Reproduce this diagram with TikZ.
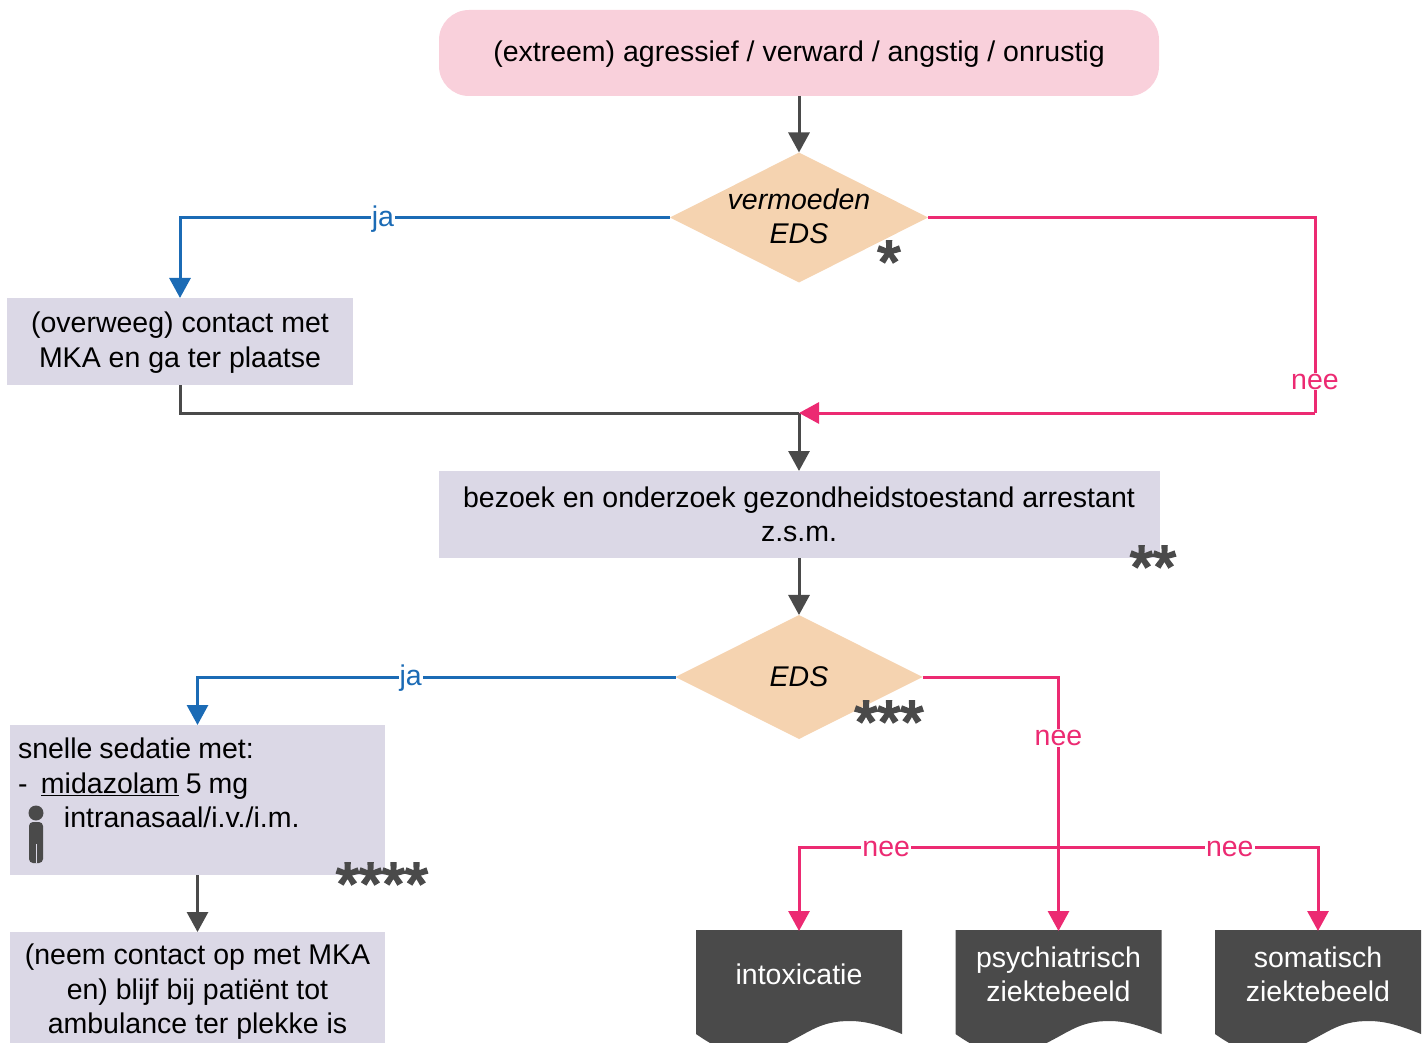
\documentclass[tikz,border=0pt]{standalone}
\usepackage{fontspec}
\setmainfont{Liberation Sans}
\newfontfamily\sterfont[FakeBold=4]{Liberation Sans}
\usetikzlibrary{arrows.meta,positioning,shapes.geometric}
\definecolor{grijs}{HTML}{4A4A4A}
\definecolor{blauw}{HTML}{1B6BB5}
\definecolor{roze}{HTML}{EC2A72}
\definecolor{rozevlak}{HTML}{F9D0DB}
\definecolor{oranjevlak}{HTML}{F5D3B0}
\definecolor{lilavlak}{HTML}{DBD8E6}

\begin{document}
\begin{tikzpicture}[x=1pt,y=-1pt,>={Triangle[length=20pt,width=21pt]},line width=3pt,
    font=\fontsize{28.5}{34.4}\selectfont,inner sep=0pt,outer sep=0pt,node distance=57pt]
\tikzstyle{blok}=[fill=lilavlak,text=black,align=center]
\tikzstyle{keuze}=[diamond,fill=oranjevlak,align=center]
\tikzstyle{schuin}=[align=center,font=\fontsize{28.5}{34.4}\selectfont\itshape]
\tikzstyle{uitkomst}=[minimum width=206pt,minimum height=87pt,text=white,align=center,anchor=north]
\tikzstyle{pijl}=[->,draw=grijs]
\tikzstyle{ja}=[->,draw=blauw,text=blauw]
\tikzstyle{nee}=[->,draw=roze,text=roze]
\tikzstyle{tekst}=[fill=white,inner xsep=1pt,inner ysep=1pt,yshift=-1.5pt]
\tikzstyle{ster}=[text=grijs,anchor=base,font=\fontsize{59}{59}\sterfont]
\useasboundingbox (0,0) rectangle (1425,1043);
\clip (0,0) rectangle (1425,1043);

\node[fill=rozevlak,rounded corners=30pt,minimum width=720pt,minimum height=86pt,
  label={[yshift=-1.5pt]center:(extreem) agressief / verward / angstig / onrustig}] (start) at (799,53) {};
\node[keuze,minimum width=258pt,minimum height=130pt,below=56.5pt of start,
  label={[schuin,yshift=1pt]center:vermoeden\\EDS}] (vermoeden) {};
\node[blok,minimum width=346pt,minimum height=87pt,
  label={[align=center,yshift=-1pt]center:(overweeg) contact met\\MKA en ga ter plaatse}] (overweeg) at (180,341.5) {};
\node[blok,minimum width=721pt,minimum height=87pt,below=188.5pt of vermoeden] (bezoek) {bezoek en onderzoek gezondheidstoestand arrestant\\z.s.m.};
\node[keuze,minimum width=247pt,minimum height=124pt,below=of bezoek,
  label={[schuin]center:EDS}] (eds) {};
\node[blok,align=left,text width=359pt,minimum height=150pt,inner xsep=8pt] (sedatie) at (197.5,800) {\spaceskip=7pt snelle sedatie met:\\\makebox[23pt][l]{-}\underline{midazolam} 5 mg\\\hspace*{46pt}intranasaal/i.v./i.m.\\\mbox{}};
\node[blok,minimum width=375pt,minimum height=124pt,below=of sedatie] (blijf) {};
\node[align=center,anchor=north] (blijftekst) at (197.5,944) {(neem contact op met MKA\\en) blijf bij patiënt tot\\ambulance ter plekke is};

% persoon in het sedatie blok
\fill[grijs] (36,813) circle (7.5);
\fill[grijs,rounded corners=4pt] (29,822) rectangle (43,863);
\draw[lilavlak,line width=1pt] (36,844) -- (36,863);

% uitkomsten met golvende onderkant
\foreach \links/\naam in {696/intox,955.5/psych,1215/somat}{
  \fill[grijs,shift={(\links,0)}] (0,930) -- (206,930) -- (206,1034) .. controls (184,1025) and (169,1021) .. (154,1021)
    .. controls (124,1021) and (114,1032) .. (89,1044) .. controls (64,1060) and (40,1062) .. (0,1034) -- cycle;
}
\node[uitkomst] (intox) at (799,931) {intoxicatie};
\node[uitkomst] (psych) at (1058.5,931) {psychiatrisch\\ziektebeeld};
\node[uitkomst] (somat) at (1318,931) {somatisch\\ziektebeeld};

\coordinate (samen) at (799,413);
\coordinate (hoek) at (1315,413);
\coordinate (splits) at (1058.5,847);

\draw[pijl] (start) -- (vermoeden);
\draw[draw=grijs] (overweeg.south) |- (samen);
\draw[pijl] (samen) -- (bezoek);
\draw[pijl] (bezoek) -- (eds);
\draw[pijl] (sedatie) -- (blijf);
\draw[ja] (vermoeden.west) -| node[tekst,pos=0.293]{ja} (overweeg.north);
\draw[ja] (eds.west) -| node[tekst,pos=0.277]{ja} (sedatie.north);
\draw[draw=roze,text=roze] (vermoeden.east) -| node[tekst,pos=0.916]{nee} (hoek);
\draw[nee] (hoek) -- (samen);
\draw[nee] (eds.east) -| node[tekst,pos=0.617]{nee} (psych.north);
\draw[nee] (splits) -| node[tekst,pos=0.332]{nee} (intox.north);
\draw[nee] (splits) -| node[tekst,pos=0.33]{nee} (somat.north);

\node[ster] (ster1) at (889,282) {*};
\node[ster] (ster2) at (1153,587) {**};
\node[ster] (ster3) at (889,742) {***};
\node[ster] (ster4) at (382,904) {****};
\end{tikzpicture}
\end{document}
